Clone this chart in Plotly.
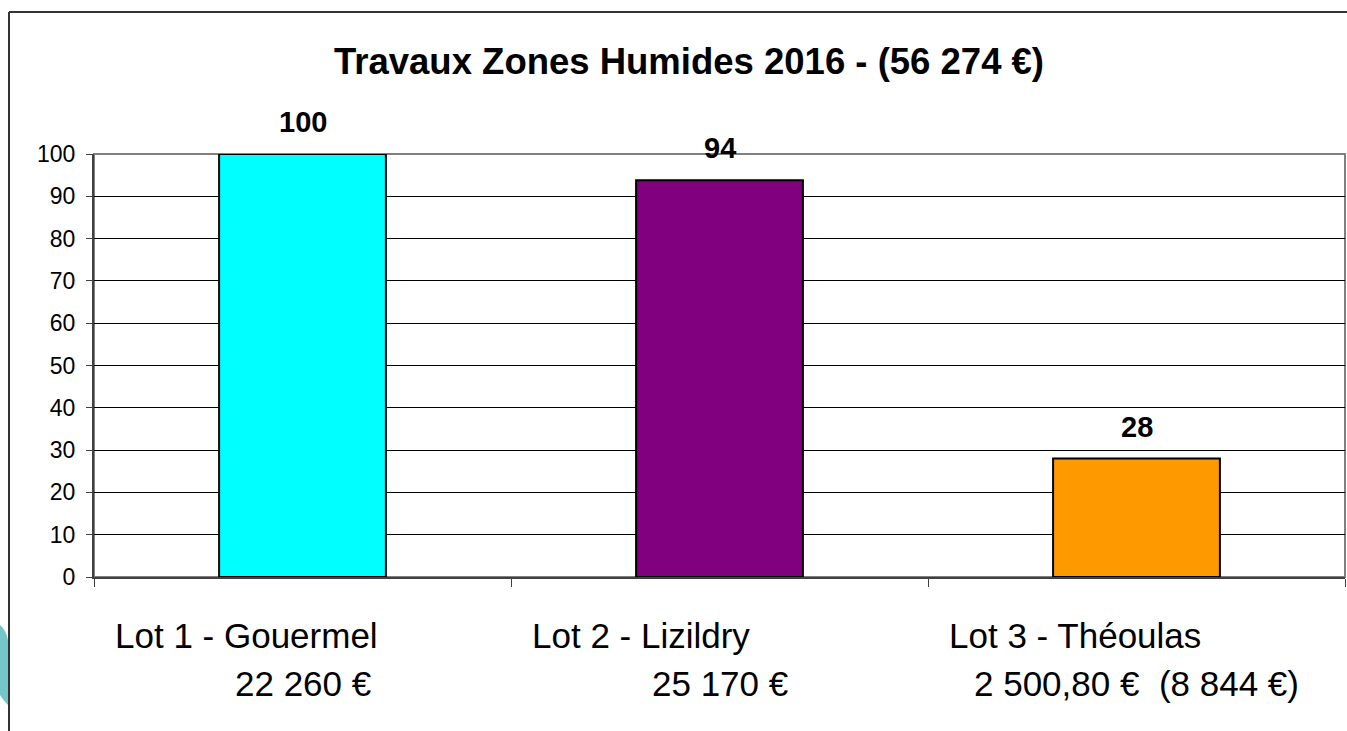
import plotly.graph_objects as go

# ---- data ----
categories = ["Lot 1 - Gouermel", "Lot 2 - Lizildry", "Lot 3 - Théoulas"]
amounts = ["22 260 €", "25 170 €", "2 500,80 €  (8 844 €)"]
values = [100, 93.8, 28]
value_labels = ["100", "94", "28"]
colors = ["#00FFFF", "#800080", "#FF9900"]
y_ticks = [0, 10, 20, 30, 40, 50, 60, 70, 80, 90, 100]
title_text = "Travaux Zones Humides 2016 - (56 274 €)"

W, H = 1347, 731
ML, MR, MT, MB = 94, 2, 154, 154
FONT = "Liberation Sans, Arial, sans-serif"

def px_x(p):
    return (p - ML) / (W - ML - MR)

def px_y(p):
    return (H - MB - p) / (H - MT - MB)

fig = go.Figure()
fig.add_trace(go.Bar(
    x=categories, y=values,
    marker=dict(color=colors, line=dict(color="black", width=2)),
    width=0.4,
    hoverinfo="skip",
))

annotations = []
for cat, val, lab in zip(categories, values, value_labels):
    annotations.append(dict(x=cat, xref="x", y=val, yref="y", text=f"<b>{lab}</b>",
                            xanchor="center", yanchor="bottom", yshift=14,
                            showarrow=False, font=dict(family=FONT, size=29, color="black")))
for cat, amt in zip(categories, amounts):
    annotations.append(dict(x=cat, xref="x", y=0, yref="paper", text=cat,
                            xanchor="left", yanchor="top", xshift=-190, yshift=-37,
                            showarrow=False, font=dict(family=FONT, size=35, color="black")))
    annotations.append(dict(x=cat, xref="x", y=0, yref="paper", text=amt,
                            xanchor="center", yanchor="top", xshift=0, yshift=-85,
                            showarrow=False, font=dict(family=FONT, size=35, color="black")))

shapes = [
    # plot area border (top/right gray)
    dict(type="rect", xref="paper", yref="paper", x0=0, x1=1, y0=0, y1=1,
         line=dict(color="#808080", width=2), layer="below"),
    # outer frame
    dict(type="line", xref="paper", yref="paper", x0=px_x(9), x1=px_x(9), y0=px_y(12), y1=px_y(740),
         line=dict(color="#333333", width=2)),
    dict(type="line", xref="paper", yref="paper", x0=px_x(9), x1=px_x(1360), y0=px_y(12), y1=px_y(12),
         line=dict(color="#333333", width=2)),
    # faint watermark patch at left edge
    dict(type="path", xref="paper", yref="paper",
         path=f"M {px_x(0)},{px_y(625)} Q {px_x(6)},{px_y(630)} {px_x(8)},{px_y(640)} L {px_x(8)},{px_y(705)} Q {px_x(3)},{px_y(700)} {px_x(0)},{px_y(695)} Z",
         fillcolor="#74c6c9", line=dict(width=0), layer="below"),
]

fig.update_layout(
    width=W, height=H,
    margin=dict(l=ML, r=MR, t=MT, b=MB),
    paper_bgcolor="white", plot_bgcolor="white",
    showlegend=False,
    hovermode=False,
    title=dict(text=f"<b>{title_text}</b>", x=689 / W, xanchor="center", xref="container",
               y=1 - 61 / H, yanchor="middle", yref="container",
               font=dict(family=FONT, size=36.5, color="black")),
    xaxis=dict(showticklabels=False, ticks="outside", tickson="boundaries", ticklen=8,
               tickcolor="#404040", tickwidth=1, showline=True, linecolor="#404040", linewidth=2,
               showgrid=False, zeroline=False, range=[-0.5, 2.5]),
    yaxis=dict(range=[0, 100], tickvals=y_ticks, ticks="outside", ticklen=6, tickcolor="#404040",
               showline=True, linecolor="#404040", linewidth=2,
               showgrid=True, gridcolor="black", gridwidth=1, zeroline=False,
               tickfont=dict(family=FONT, size=23, color="black"), ticklabelstandoff=6),
    annotations=annotations,
    shapes=shapes,
    bargap=0.6,
)

fig.write_html("out.html", config={"displayModeBar": False},
               post_script="document.body.style.margin='0';document.body.style.overflow='hidden';")
